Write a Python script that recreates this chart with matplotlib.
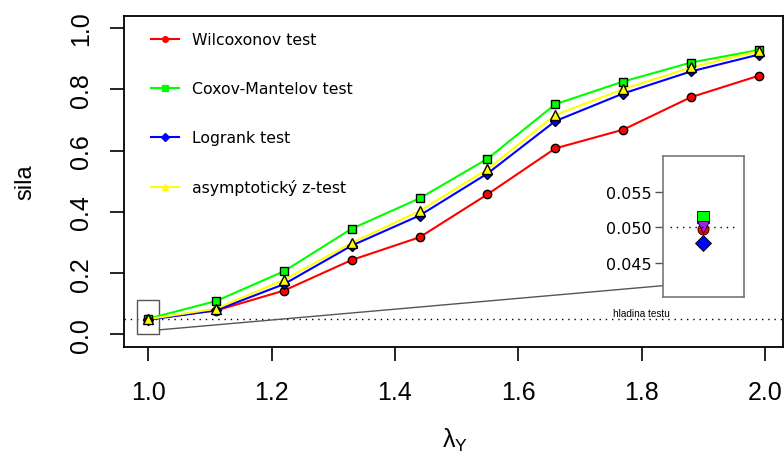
import matplotlib
matplotlib.use("Agg")
import matplotlib.pyplot as plt
from matplotlib.lines import Line2D
from matplotlib.patches import Rectangle
import numpy as np

# lambda_Y values and power of each test
lam = [1.0, 1.11, 1.22, 1.33, 1.44, 1.55, 1.66, 1.77, 1.88, 1.99]
wilcoxon = [0.0498, 0.078, 0.143, 0.243, 0.317, 0.457, 0.607, 0.668, 0.774, 0.844]
cox_mantel = [0.0514, 0.109, 0.206, 0.345, 0.444, 0.573, 0.751, 0.825, 0.887, 0.928]
logrank = [0.0477, 0.079, 0.164, 0.290, 0.388, 0.525, 0.696, 0.786, 0.858, 0.913]
z_test = [0.0500, 0.084, 0.178, 0.299, 0.403, 0.539, 0.716, 0.800, 0.871, 0.924]
labels = ['Wilcoxonov test', 'Coxov-Mantelov test', 'Logrank test', 'asymptotický z-test']
alpha = 0.05

colors = ['#FF0000', '#00FF00', '#0000FF', '#FFFF00']
markers = ['o', 's', 'D', '^']
sizes = [6, 6, 5.5, 7]
series = [wilcoxon, cox_mantel, logrank, z_test]

plt.rcParams['font.family'] = ['Liberation Sans', 'DejaVu Sans']

fig = plt.figure(figsize=(7.84, 4.56), dpi=100)
ax = fig.add_axes([0.158, 0.2375, 0.841, 0.726])

for y, c in zip(series, colors):
    ax.plot(lam, y, color=c, lw=1.5, zorder=2)
for y, c, m, s in zip(series, colors, markers, sizes):
    ax.plot(lam, y, linestyle='none', marker=m, markersize=s, markerfacecolor=c,
            markeredgecolor='black', markeredgewidth=1, zorder=3)

# significance level
ax.axhline(alpha, color='black', lw=1, linestyle=(0, (1, 3.5)), zorder=1)
ax.text(1.8, 0.07, 'hladina testu', fontsize=7.2, ha='center', va='center')

# zoom box and connector
ax.add_patch(Rectangle((0.982, 0.0), 0.036, 0.112, fill=False, edgecolor='#555555', lw=1, zorder=1))
ax.plot([1.018, 1.834], [0.015, 0.159], color='#555555', lw=1, zorder=1)

ax.set_xlim(0.9604, 2.0296)
ax.set_ylim(-0.04, 1.04)
ax.set_xticks([1.0, 1.2, 1.4, 1.6, 1.8, 2.0])
ax.set_xticklabels(['1.0', '1.2', '1.4', '1.6', '1.8', '2.0'])
ax.set_yticks([0.0, 0.2, 0.4, 0.6, 0.8, 1.0])
ax.set_yticklabels(['0.0', '0.2', '0.4', '0.6', '0.8', '1.0'], rotation=90, va='center')
ax.tick_params(axis='both', direction='out', length=10, width=1.2, labelsize=18)
ax.tick_params(axis='x', pad=14)
ax.tick_params(axis='y', pad=12.3)
for sp in ax.spines.values():
    sp.set_linewidth(1.3)

fig.text(25 / 784, 1 - 182 / 456, 'sila', rotation=90, fontsize=17, ha='center', va='center')
fig.text(455 / 784, 1 - 440 / 456, r'$\mathregular{\lambda_Y}$', fontsize=18, ha='center', va='center')

handles = [Line2D([], [], color=c, lw=1.5, marker=m, markersize=4, markeredgecolor=c)
           for c, m in zip(colors, ['o', 's', 'D', '^'])]
ax.legend(handles, labels, loc='upper left', bbox_to_anchor=(151 / 784, 1 - 33 / 456),
          bbox_transform=fig.transFigure, frameon=False, borderpad=0, borderaxespad=0,
          handlelength=1.8, handletextpad=0.8, labelspacing=2.17,
          prop={'family': 'DejaVu Sans', 'size': 11.3})

# inset with detail at lambda = 1
ins = fig.add_axes([662.7 / 784, 1 - 298.3 / 456, 81.3 / 784, 141.6 / 456])
ins_colors = ['#FF0000', '#00FF00', '#0000FF', '#A020F0']
ins_markers = ['o', 's', 'D', 'v']
for i in range(4):
    ins.plot([lam[0]], [series[i][0]], linestyle='none', marker=ins_markers[i], markersize=8,
             markerfacecolor=ins_colors[i], markeredgecolor='black', markeredgewidth=0.6)
ins.axhline(alpha, xmin=0.09, xmax=0.91, color='black', lw=1, linestyle=(0, (1, 3.5)))
ins.set_xlim(0.95, 1.05)
ins.set_ylim(0.0401, 0.0601)
ins.set_xticks([])
ins.set_yticks([0.045, 0.050, 0.055])
ins.set_yticklabels(['0.045', '0.050', '0.055'], family='DejaVu Sans')
ins.tick_params(axis='y', length=6, width=1, labelsize=11.5, color='#555555', pad=2)
for sp in ins.spines.values():
    sp.set_color('#777777')
    sp.set_linewidth(1.2)

fig.savefig('out.png', dpi=100)
